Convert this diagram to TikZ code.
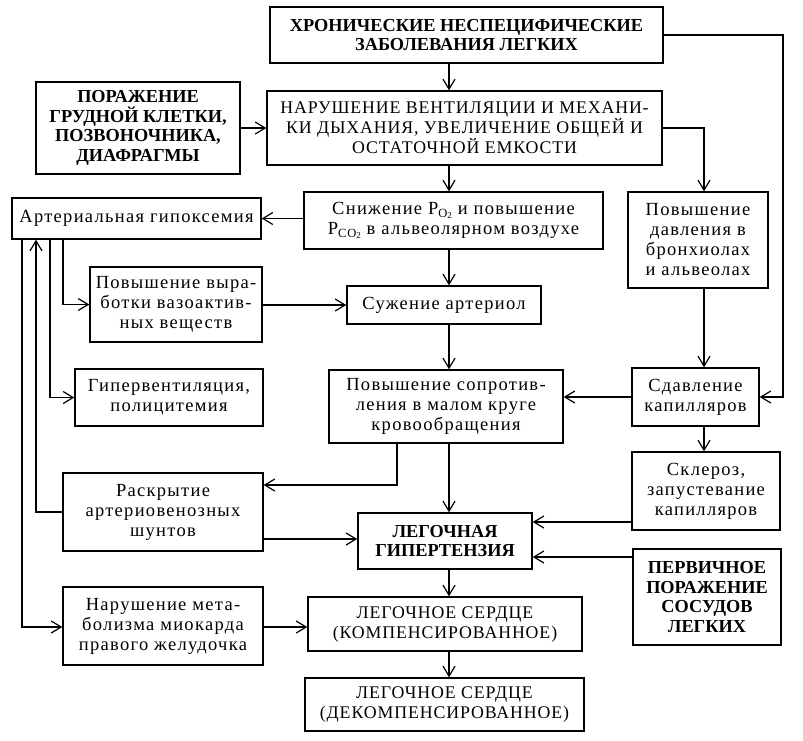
\documentclass[tikz,border=0pt]{standalone}
\usepackage{fontspec}
\setmainfont{Liberation Serif}
\newfontfamily\lowfont[LetterSpace=7]{Liberation Serif}
\newfontfamily\capfont[LetterSpace=5]{Liberation Serif}
\usetikzlibrary{arrows.meta}
\newcommand\Psub[1]{P\raisebox{-0.35ex}{\fontsize{12.5}{12.5}\selectfont #1\raisebox{-0.3ex}{\fontsize{9}{9}\selectfont 2}}}
\begin{document}
\begin{tikzpicture}[x=1pt,y=-1pt,
  box/.style={draw, line width=1.35pt, align=center, inner sep=0pt, font=\lowfont\fontsize{18.5}{20}\selectfont},
  capbox/.style={box, font=\capfont\fontsize{17.8}{20}\selectfont},
  boldbox/.style={box, line width=1.5pt, font=\bfseries\fontsize{18.3}{19.5}\selectfont},
  arr/.style={line width=1.2pt, -{Straight Barb[length=10pt,width=12pt,line width=1.2pt]}}]
\fill[white] (0,0) rectangle (803,740);
\useasboundingbox (0,0) rectangle (803,740);
% nodes
\node[boldbox, minimum width=393, minimum height=56] (top) at (466.5,35) {ХРОНИЧЕСКИЕ НЕСПЕЦИФИЧЕСКИЕ\\ЗАБОЛЕВАНИЯ ЛЕГКИХ};
\node[boldbox, minimum width=204, minimum height=92] (por) at (138,128) {ПОРАЖЕНИЕ\\ГРУДНОЙ КЛЕТКИ,\\ПОЗВОНОЧНИКА,\\ДИАФРАГМЫ};
\node[capbox, minimum width=395, minimum height=74] (nar) at (464.5,128) {НАРУШЕНИЕ ВЕНТИЛЯЦИИ И МЕХАНИ-\\КИ ДЫХАНИЯ, УВЕЛИЧЕНИЕ ОБЩЕЙ И\\ОСТАТОЧНОЙ ЕМКОСТИ};
\node[box, minimum width=299, minimum height=57] (snij) at (453.5,220.5) {Снижение \Psub{O} и повышение\\\Psub{CO} в альвеолярном воздухе};
\node[box, minimum width=249, minimum height=41] (gip) at (136.5,218.5) {Артериальная гипоксемия};
\node[box, minimum width=140, minimum height=96] (povd) at (698,240) {Повышение\\давления в\\бронхиолах\\и альвеолах};
\node[box, minimum width=172, minimum height=75] (vaz) at (176,304.5) {Повышение выра-\\ботки вазоактив-\\ных веществ};
\node[box, minimum width=194, minimum height=38] (suj) at (444,305) {Сужение артериол};
\node[box, minimum width=188, minimum height=57] (hyp) at (169,397.5) {Гипервентиляция,\\полицитемия};
\node[box, minimum width=234, minimum height=73] (sopr) at (446,406.5) {Повышение сопротив-\\ления в малом круге\\кровообращения};
\node[box, minimum width=127, minimum height=58] (sdav) at (695.5,397) {Сдавление\\капилляров};
\node[box, minimum width=148, minimum height=78] (skl) at (706,491) {Склероз,\\запустевание\\капилляров};
\node[box, minimum width=200, minimum height=78] (rask) at (163,512) {Раскрытие\\артериовенозных\\шунтов};
\node[boldbox, minimum width=174, minimum height=56] (lg) at (445,541) {ЛЕГОЧНАЯ\\ГИПЕРТЕНЗИЯ};
\node[boldbox, minimum width=148, minimum height=96] (perv) at (707,597) {ПЕРВИЧНОЕ\\ПОРАЖЕНИЕ\\СОСУДОВ\\ЛЕГКИХ};
\node[box, minimum width=200, minimum height=78] (metab) at (163,626) {Нарушение мета-\\болизма миокарда\\правого желудочка};
\node[capbox, minimum width=274, minimum height=54] (komp) at (445,624) {ЛЕГОЧНОЕ СЕРДЦЕ\\(КОМПЕНСИРОВАННОЕ)};
\node[capbox, minimum width=279, minimum height=53] (dek) at (444.5,704.5) {ЛЕГОЧНОЕ СЕРДЦЕ\\(ДЕКОМПЕНСИРОВАННОЕ)};
% guide coordinates
\coordinate (cC) at (449,0);
\coordinate (cR) at (704,0);
\coordinate (cE) at (783,0);
\coordinate (l1) at (22,0);
\coordinate (l2) at (36,0);
\coordinate (l3) at (50,0);
\coordinate (l4) at (63,0);
\coordinate (sx) at (397,0);
\coordinate (yR) at (0,485);
\coordinate (yA) at (0,539);
\coordinate (yS) at (0,522);
\coordinate (yP) at (0,557);
\coordinate (yM) at (0,627);
% connectors
\draw[arr] (top.south -| cC) -- (nar.north -| cC);
\draw[arr] (por.east) -- (por.east -| nar.west);
\draw[arr] (top.east) -- (top.east -| cE) -- (cE |- sdav.east) -- (sdav.east);
\draw[arr] (nar.east) -- (nar.east -| cR) -- (cR |- povd.north);
\draw[arr] (nar.south -| cC) -- (snij.north -| cC);
\draw[arr] (snij.west |- gip.east) -- (gip.east);
\draw[arr] (snij.south -| cC) -- (suj.north -| cC);
\draw[arr] (vaz.east |- suj.west) -- (suj.west);
\draw[arr] (suj.south -| cC) -- (sopr.north -| cC);
\draw[arr] (povd.south -| cR) -- (sdav.north -| cR);
\draw[arr] (sdav.west) -- (sdav.west -| sopr.east);
\draw[arr] (sdav.south -| cR) -- (skl.north -| cR);
\draw[arr] (sopr.south -| cC) -- (lg.north -| cC);
\draw[arr] (sopr.south -| sx) -- (sx |- yR) -- (rask.east |- yR);
\draw[arr] (rask.east |- yA) -- (lg.west |- yA);
\draw[arr] (skl.west |- yS) -- (lg.east |- yS);
\draw[arr] (perv.west |- yP) -- (lg.east |- yP);
\draw[arr] (lg.south -| cC) -- (komp.north -| cC);
\draw[arr] (komp.south -| cC) -- (dek.north -| cC);
\draw[arr] (metab.east |- yM) -- (komp.west |- yM);
\draw[arr] (gip.south -| l1) -- (l1 |- yM) -- (metab.west |- yM);
\draw[arr] (rask.west) -- (l2 |- rask.west) -- (gip.south -| l2);
\draw[arr] (gip.south -| l3) -- (l3 |- hyp.west) -- (hyp.west);
\draw[arr] (gip.south -| l4) -- (l4 |- vaz.west) -- (vaz.west);
\end{tikzpicture}
\end{document}
